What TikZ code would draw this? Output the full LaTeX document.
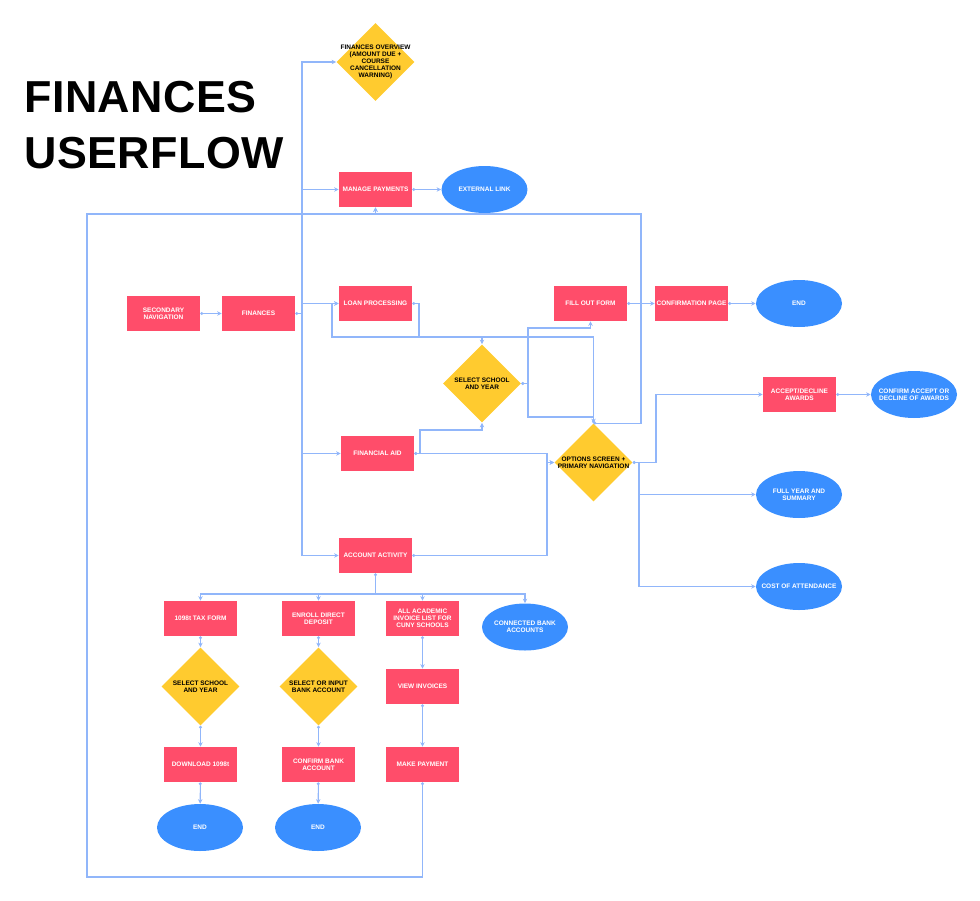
\documentclass[tikz,border=0pt]{standalone}
\usepackage{fontspec}
\setmainfont{Liberation Sans}
\usetikzlibrary{shapes.geometric,arrows.meta}
\definecolor{procred}{RGB}{255,77,106}
\definecolor{decyellow}{RGB}{255,203,47}
\definecolor{termblue}{RGB}{58,143,255}
\definecolor{linkblue}{RGB}{145,182,250}
\begin{document}
\begin{tikzpicture}[x=0.02cm, y=-0.02cm,
    proc/.style={rectangle, fill=procred, minimum width=1.46cm, minimum height=0.7cm, inner sep=0pt, text=white, align=center, font=\fontsize{3.7}{4}\selectfont\bfseries},
    term/.style={ellipse, fill=termblue, minimum width=1.72cm, minimum height=0.94cm, inner sep=0pt},
    dec/.style={diamond, fill=decyellow, minimum width=1.56cm, minimum height=1.56cm, inner sep=0pt},
    termtext/.style={text=white, align=center, inner sep=0pt, font=\fontsize{3.7}{4}\selectfont\bfseries},
    dectext/.style={text=black, align=center, inner sep=0pt, font=\fontsize{3.7}{4}\selectfont\bfseries},
    heading/.style={anchor=base west, inner sep=0pt, font=\fontsize{25.5}{28}\selectfont\bfseries\addfontfeature{LetterSpace=1}},
    feed/.style={draw=linkblue, line width=0.6pt, -{Stealth[length=2.6pt, width=2.6pt]}},
    flow/.style={feed, {Circle[open, length=1.6pt, fill=white]}-{Stealth[length=2.6pt, width=2.6pt]}}]
  \useasboundingbox (0,0) rectangle (980,900);

  \node[heading] (ttl) at (24,112) {FINANCES};
  \node[heading] (ttl2) at (24,168) {USERFLOW};

  \node[dec, label={[dectext]center:FINANCES OVERVIEW\\(AMOUNT DUE +\\COURSE\\CANCELLATION\\WARNING)}] (ov) at (375.5,62) {};
  \node[proc] (mp) at (375.5,189.5) {MANAGE PAYMENTS};
  \node[term, label={[termtext]center:EXTERNAL LINK}] (ext) at (484.5,189.5) {};
  \node[proc] (sec) at (163.5,313.5) {SECONDARY\\NAVIGATION};
  \node[proc] (fin) at (258.5,313.5) {FINANCES};
  \node[proc] (loan) at (375.5,303.5) {LOAN PROCESSING};
  \node[proc] (fill) at (590.5,303.5) {FILL OUT FORM};
  \node[proc] (conf) at (691.5,303.5) {CONFIRMATION PAGE};
  \node[term, label={[termtext]center:END}] (end1) at (799,303.5) {};
  \node[dec, label={[dectext]center:SELECT SCHOOL\\AND YEAR}] (ss1) at (482,383.5) {};
  \node[proc] (acc) at (799.5,394.5) {ACCEPT/DECLINE\\AWARDS};
  \node[term, label={[termtext]center:CONFIRM ACCEPT OR\\DECLINE OF AWARDS}] (cacc) at (914,394.5) {};
  \node[proc] (aid) at (377.5,453.5) {FINANCIAL AID};
  \node[dec, label={[dectext]center:OPTIONS SCREEN +\\PRIMARY NAVIGATION}] (opt) at (593.5,462.5) {};
  \node[term, label={[termtext]center:FULL YEAR AND\\SUMMARY}] (full) at (799,494.5) {};
  \node[proc] (act) at (375.5,555.5) {ACCOUNT ACTIVITY};
  \node[term, label={[termtext]center:COST OF ATTENDANCE}] (cost) at (799,586.5) {};
  \node[proc] (tax) at (200.5,618.5) {1098t TAX FORM};
  \node[proc] (dep) at (318.5,618.5) {ENROLL DIRECT\\DEPOSIT};
  \node[proc] (inv) at (422.5,618.5) {ALL ACADEMIC\\INVOICE LIST FOR\\CUNY SCHOOLS};
  \node[term, label={[termtext]center:CONNECTED BANK\\ACCOUNTS}] (bank) at (525,627) {};
  \node[dec, label={[dectext]center:SELECT SCHOOL\\AND YEAR}] (ss2) at (200.5,686.5) {};
  \node[dec, label={[dectext]center:SELECT OR INPUT\\BANK ACCOUNT}] (sel) at (318.5,686.5) {};
  \node[proc] (view) at (422.5,686.5) {VIEW INVOICES};
  \node[proc] (dl) at (200.5,764.5) {DOWNLOAD 1098t};
  \node[proc] (cb) at (318.5,764.5) {CONFIRM BANK\\ACCOUNT};
  \node[proc] (pay) at (422.5,764.5) {MAKE PAYMENT};
  \node[term, label={[termtext]center:END}] (end2) at (200,827.5) {};
  \node[term, label={[termtext]center:END}] (end3) at (318,827.5) {};

  \coordinate (trunk) at (302,313.5);
  \coordinate (lbot) at (87,877);
  \coordinate (ltop) at (87,214);
  \coordinate (rtop) at (641,214);
  \coordinate (lpb) at (332,337);
  \coordinate (lpr) at (419,337);
  \coordinate (ssu) at (528,328);
  \coordinate (ssd) at (528,417);
  \coordinate (ais) at (420,430);
  \coordinate (optl) at (547,462.5);
  \coordinate (optr) at (656,462.5);
  \coordinate (optd) at (639,462.5);
  \coordinate (split) at (375.5,594);

  \draw[flow] (sec) -- (fin);
  \draw[flow] (fin.east) -- (trunk) |- (ov.west);
  \draw[feed] (trunk) |- (mp.west);
  \draw[feed] (trunk) |- (loan.west);
  \draw[feed] (trunk) |- (aid.west);
  \draw[feed] (trunk) |- (act.west);
  \draw[flow] (mp) -- (ext);
  \draw[flow] (pay.south) |- (lbot) -- (ltop) -| (mp.south);
  \draw[flow] (opt.north) -| (rtop) -| (mp.south);
  \draw[flow] (opt.north) |- (lpb) |- (loan.west);
  \draw[flow] (loan.east) -| (lpr) -| (ss1.north);
  \draw[flow] (ss1.east) -| (ssu) -| (fill.south);
  \draw[flow] (ss1.east) -| (ssd) -| (opt.north);
  \draw[flow] (fill) -- (conf);
  \draw[flow] (conf) -- (end1);
  \draw[flow] (aid.east) -| (ais) -| (ss1.south);
  \draw[flow] (aid.east) -| (optl) -- (opt.west);
  \draw[flow] (act.east) -| (optl) -- (opt.west);
  \draw[flow] (opt.east) -- (optr) |- (acc.west);
  \draw[flow] (opt.east) -- (optd) |- (full.west);
  \draw[feed] (optd) |- (cost.west);
  \draw[flow] (acc) -- (cacc);
  \draw[flow] (act.south) -- (split) -| (tax.north);
  \draw[feed] (split) -| (dep.north);
  \draw[feed] (split) -| (inv.north);
  \draw[feed] (split) -| (bank.north);
  \draw[flow] (tax) -- (ss2);
  \draw[flow] (ss2) -- (dl);
  \draw[flow] (dl) -- (end2);
  \draw[flow] (dep) -- (sel);
  \draw[flow] (sel) -- (cb);
  \draw[flow] (cb) -- (end3);
  \draw[flow] (inv) -- (view);
  \draw[flow] (view) -- (pay);
\end{tikzpicture}
\end{document}
